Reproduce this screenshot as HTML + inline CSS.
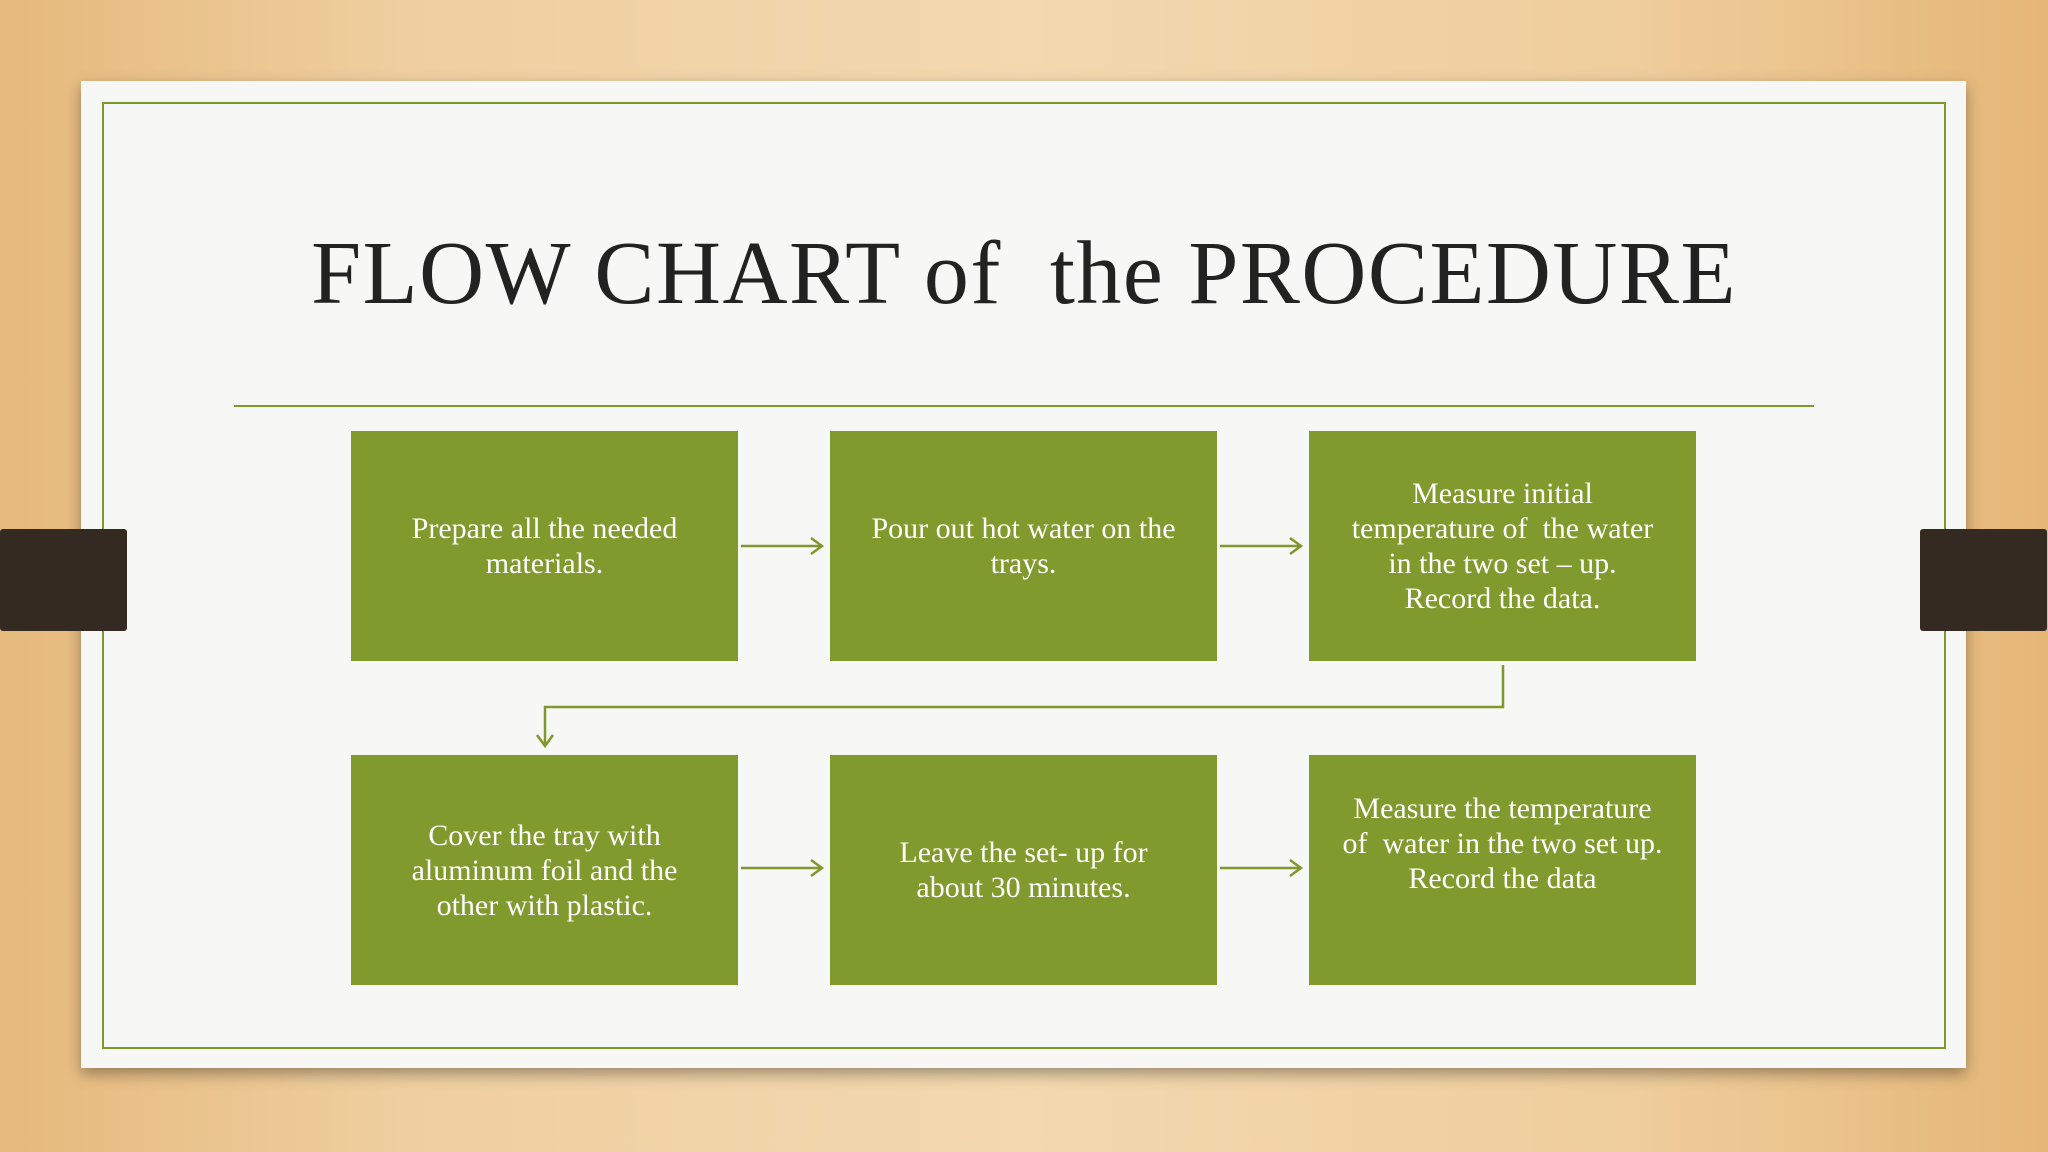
<!DOCTYPE html>
<html><head><style>
html,body{margin:0;padding:0}
body{width:2048px;height:1152px;position:relative;overflow:hidden;
background:linear-gradient(90deg,#e6b97c 0%,#efcfa0 20%,#f3d9b0 50%,#efcd9c 80%,#e5b677 100%);
font-family:"Liberation Serif",serif}
.slide{position:absolute;left:81px;top:81px;width:1885px;height:987px;background:#f7f7f6;box-shadow:0 6px 14px rgba(0,0,0,.35)}
.border{position:absolute;left:102px;top:102px;width:1840px;height:943px;border:2px solid #7f972d}
.tab{position:absolute;top:529px;height:102px;width:127px;background:#352a22;border-radius:3px}
h1{position:absolute;left:0;width:2048px;top:224px;margin:0;text-align:center;font-weight:normal;font-size:90px;color:#222;line-height:100px;letter-spacing:1.5px;white-space:nowrap}
.rule{position:absolute;left:234px;top:405px;width:1580px;height:2px;background:#7f972d}
.box{position:absolute;width:387px;height:230px;background:#819a2d;color:#fff;display:flex;align-items:center;justify-content:center;text-align:center;font-size:30px;line-height:35px;padding:0 4px;box-sizing:border-box;white-space:nowrap}
svg{position:absolute;left:0;top:0}
</style></head><body>
<div class="slide"></div>
<div class="border"></div>
<div class="tab" style="left:0"></div>
<div class="tab" style="left:1920px"></div>
<h1>FLOW CHART of&nbsp; the PROCEDURE</h1>
<div class="rule"></div>
<div class="box" style="left:351px;top:431px"><div>Prepare all the needed<br>materials.</div></div>
<div class="box" style="left:830px;top:431px"><div>Pour out hot water on the<br>trays.</div></div>
<div class="box" style="left:1309px;top:431px"><div>Measure initial<br>temperature of&nbsp; the water<br>in the two set – up.<br>Record the data.</div></div>
<div class="box" style="left:351px;top:755px"><div>Cover the tray with<br>aluminum foil and the<br>other with plastic.</div></div>
<div class="box" style="left:830px;top:755px"><div>Leave the set- up for<br>about 30 minutes.</div></div>
<div class="box" style="left:1309px;top:755px;align-items:flex-start;padding-top:36px"><div>Measure the temperature<br>of&nbsp; water in the two set up.<br>Record the data</div></div>
<svg width="2048" height="1152" fill="none" stroke="#7f972d" stroke-width="2.5">
<path d="M741 546H822M811 538L822 546L811 554"/>
<path d="M1220 546H1301M1290 538L1301 546L1290 554"/>
<path d="M741 868H822M811 860L822 868L811 876"/>
<path d="M1220 868H1301M1290 860L1301 868L1290 876"/>
<path d="M1503 665V707H545V746M537 735L545 746L553 735"/>
</svg>
</body></html>
